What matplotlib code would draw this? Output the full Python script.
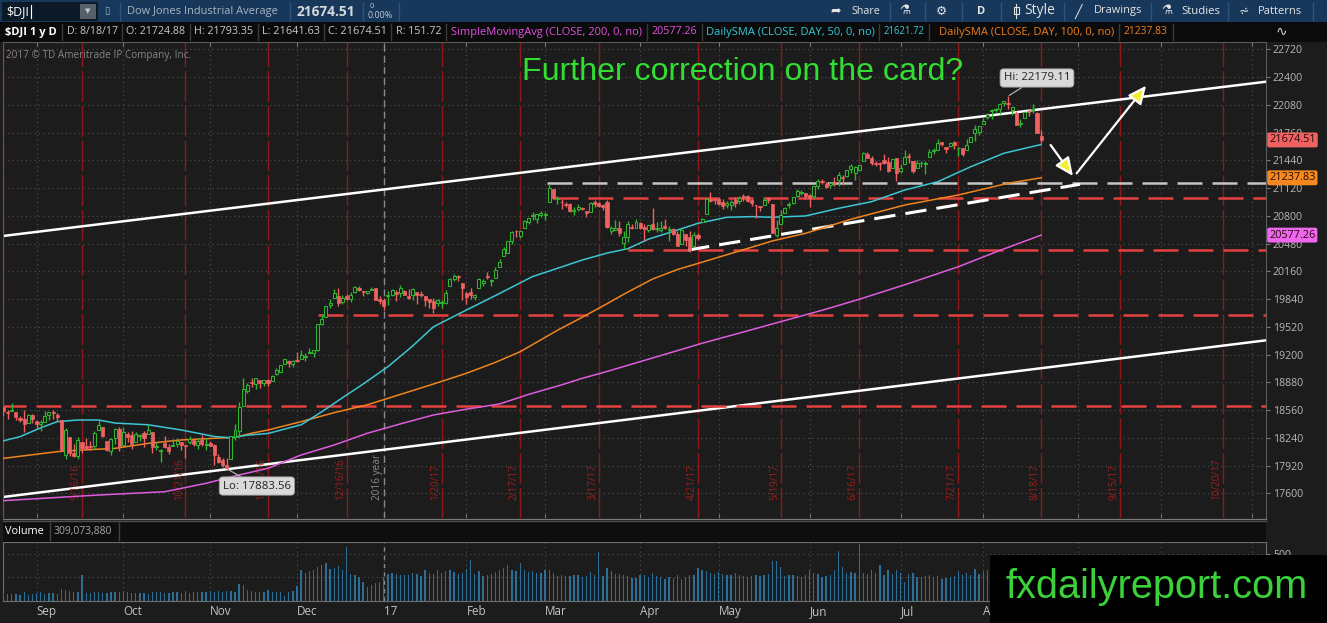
import matplotlib
matplotlib.use("Agg")
import matplotlib.pyplot as plt
import matplotlib.transforms as mtransforms
from matplotlib.patches import Rectangle, FancyArrowPatch
import numpy as np

plt.rcParams["font.family"] = ["Open Sans", "DejaVu Sans"]

# daily $DJI bars 8/19/16 .. 8/18/17; x is trading-day index, 9/1/16 = 0
opens = [
    18597, 18542, 18545, 18541, 18466, 18456, 18416, 18501, 18439,
    18396, 18419, 18501, 18536, 18504, 18445, 18043, 18253, 18067, 18035, 18195, 18150, 18148, 18148, 18333, 18369, 18207, 18090, 18237, 18336, 18161,
    18282, 18268, 18193, 18255, 18295, 18282, 18308, 18133, 18088, 18177, 18130, 18150, 18168, 18190, 18151, 18192, 18214, 18157, 18213, 18155, 18176,
    18158, 18017, 17979, 17928, 17994, 18252, 18317, 18603, 18781, 18876, 18858, 18909, 18866, 18908, 18898, 18971, 18998, 19093, 19123, 19090, 19137,
    19150, 19168, 19215, 19218, 19255, 19547, 19631, 19771, 19853, 19876, 19811, 19877, 19836, 19919, 19969, 19929, 19909, 19943, 19964, 19836, 19833,
    19873, 19890, 19924, 19906, 19931, 19876, 19887, 19926, 19900, 19874, 19836, 19821, 19795, 19794, 19794, 19995, 20076, 20108, 20028, 19913,
    19923, 19859, 19964, 20025, 20107, 20049, 20080, 20211, 20338, 20374, 20504, 20627, 20564, 20663, 20732, 20793, 20762, 20809, 20812,
    20957, 21109, 20999, 20957, 20929, 20933, 20853, 20880, 20888, 20859, 20843, 20962, 20945, 20922, 20958, 20628, 20632, 20664, 20490, 20553, 20676, 20662, 20716,
    20665, 20633, 20703, 20647, 20640, 20679, 20636, 20650, 20585, 20475, 20589, 20559, 20450, 20580, 20723, 20826, 20991, 20984, 20990,
    20962, 20929, 20921, 20977, 20976, 21017, 21026, 20977, 20925, 20917, 20925, 21004, 20936, 20580, 20700, 20832, 20923, 20950, 21032, 21063, 21059, 21036,
    21030, 21147, 21198, 21165, 21153, 21188, 21216, 21237, 21262, 21345, 21292, 21332, 21435, 21514, 21472, 21407, 21398, 21438, 21419, 21351, 21464, 21320,
    21392, 21481, 21436, 21349, 21404, 21398, 21475, 21547, 21564, 21651, 21590, 21609, 21651, 21576, 21581, 21559, 21646, 21754, 21768, 21859,
    21939, 22012, 22018, 22036, 22100, 22104, 22018, 21989, 21855, 21922, 22010, 22019, 21986, 21725,
]
highs = [
    18597, 18563, 18636, 18541, 18496, 18565, 18518, 18516, 18439,
    18443, 18550, 18539, 18558, 18522, 18445, 18358, 18253, 18167, 18251, 18195, 18237, 18203, 18319, 18449, 18369, 18207, 18241, 18354, 18366, 18365,
    18309, 18318, 18304, 18288, 18320, 18400, 18312, 18187, 18111, 18261, 18163, 18230, 18237, 18193, 18151, 18259, 18227, 18237, 18270, 18243, 18202,
    18173, 18055, 18005, 18003, 18263, 18400, 18650, 18934, 18867, 18934, 18925, 18909, 18904, 18915, 18959, 19044, 19085, 19153, 19138, 19137, 19225,
    19249, 19220, 19274, 19252, 19549, 19664, 19757, 19843, 19953, 19966, 19888, 19893, 19917, 19988, 19986, 19934, 19935, 19981, 19965, 19879, 19853,
    19938, 19957, 19948, 19999, 19943, 19957, 19973, 19926, 19933, 19874, 19837, 19855, 19843, 19833, 19949, 20082, 20125, 20114, 20029, 19922,
    19968, 19900, 20081, 20071, 20155, 20069, 20207, 20298, 20441, 20504, 20620, 20639, 20624, 20757, 20778, 20840, 20822, 20851, 20842,
    21169, 21113, 21026, 20988, 20964, 20953, 20899, 20941, 20904, 20859, 20958, 20979, 20959, 20940, 20986, 20682, 20757, 20745, 20621, 20738, 20701, 20759, 20726,
    20701, 20698, 20887, 20727, 20741, 20766, 20682, 20656, 20620, 20647, 20589, 20620, 20617, 20599, 20779, 21006, 21070, 21009, 21014,
    20995, 20970, 20983, 21012, 21025, 21046, 21039, 20990, 20925, 20917, 21000, 21013, 20936, 20754, 20867, 20906, 20955, 21013, 21113, 21092, 21059, 21047,
    21144, 21225, 21229, 21191, 21183, 21242, 21305, 21266, 21328, 21392, 21375, 21391, 21535, 21531, 21495, 21433, 21415, 21507, 21474, 21459, 21466, 21394,
    21562, 21521, 21436, 21443, 21431, 21434, 21571, 21582, 21681, 21651, 21590, 21650, 21663, 21590, 21581, 21681, 21712, 21843, 21830, 21929,
    21990, 22036, 22041, 22100, 22118, 22179, 22059, 22008, 21914, 22012, 22034, 22084, 21999, 21793,
]
lows = [
    18495, 18462, 18545, 18448, 18427, 18311, 18416, 18414, 18354,
    18313, 18419, 18443, 18462, 18431, 18085, 17995, 18028, 18019, 17994, 18066, 18094, 18101, 18107, 18333, 18246, 18082, 18038, 18168, 18089, 18161,
    18193, 18115, 18193, 18201, 18136, 18282, 18069, 18094, 17960, 18118, 18056, 18142, 18138, 18103, 18011, 18172, 18144, 18112, 18142, 18094, 18140,
    17931, 17946, 17904, 17884, 17994, 18220, 18252, 18603, 18758, 18822, 18806, 18818, 18840, 18841, 18898, 18968, 18996, 19093, 19061, 19054, 19111,
    19150, 19123, 19215, 19170, 19241, 19535, 19631, 19732, 19853, 19760, 19784, 19827, 19809, 19912, 19930, 19873, 19901, 19939, 19833, 19788, 19719,
    19776, 19871, 19812, 19860, 19887, 19842, 19830, 19783, 19867, 19754, 19733, 19677, 19763, 19731, 19786, 19995, 20053, 20052, 19833, 19781,
    19844, 19831, 19964, 19989, 20070, 19993, 20080, 20211, 20338, 20374, 20471, 20556, 20547, 20663, 20710, 20757, 20716, 20789, 20757,
    20957, 20996, 20938, 20875, 20900, 20844, 20804, 20852, 20861, 20785, 20843, 20898, 20904, 20863, 20656, 20591, 20632, 20567, 20413, 20496, 20646, 20659, 20648,
    20511, 20611, 20637, 20611, 20612, 20646, 20512, 20576, 20453, 20471, 20455, 20379, 20450, 20517, 20723, 20824, 20963, 20932, 20925,
    20875, 20886, 20868, 20906, 20934, 20973, 20957, 20918, 20777, 20858, 20925, 20947, 20606, 20553, 20700, 20832, 20893, 20937, 21018, 21035, 20996, 20896,
    21002, 21112, 21169, 21123, 21116, 21143, 21138, 21153, 21250, 21288, 21218, 21312, 21435, 21466, 21382, 21372, 21333, 21397, 21310, 21351, 21197, 21291,
    21392, 21404, 21292, 21349, 21365, 21287, 21475, 21518, 21564, 21605, 21520, 21596, 21573, 21485, 21488, 21559, 21646, 21661, 21728, 21859,
    21914, 21920, 21999, 21972, 22063, 22035, 21958, 21844, 21829, 21922, 21955, 21990, 21750, 21642,
]
closes = [
    18553, 18530, 18548, 18481, 18448, 18395, 18503, 18454, 18401,
    18419, 18492, 18538, 18526, 18480, 18085, 18326, 18067, 18034, 18212, 18124, 18120, 18130, 18294, 18392, 18261, 18094, 18228, 18339, 18143, 18308,
    18254, 18168, 18281, 18269, 18240, 18329, 18129, 18144, 18099, 18138, 18087, 18162, 18203, 18162, 18146, 18224, 18169, 18199, 18170, 18161, 18142,
    18037, 17959, 17931, 17888, 18260, 18332, 18590, 18808, 18848, 18869, 18924, 18868, 18904, 18868, 18957, 19024, 19083, 19153, 19098, 19122, 19124,
    19192, 19171, 19216, 19252, 19549, 19615, 19757, 19797, 19911, 19792, 19853, 19843, 19884, 19975, 19942, 19918, 19934, 19946, 19833, 19819, 19763,
    19882, 19942, 19899, 19964, 19887, 19856, 19955, 19892, 19886, 19826, 19804, 19732, 19827, 19799, 19912, 20069, 20101, 20094, 19971, 19864,
    19891, 19885, 20071, 20053, 20090, 20054, 20172, 20269, 20412, 20504, 20611, 20619, 20624, 20744, 20775, 20810, 20822, 20837, 20812,
    21116, 21003, 21006, 20954, 20925, 20856, 20858, 20903, 20881, 20837, 20950, 20934, 20915, 20906, 20669, 20661, 20657, 20597, 20551, 20701, 20659, 20729, 20663,
    20651, 20690, 20648, 20663, 20656, 20658, 20651, 20592, 20453, 20637, 20523, 20404, 20578, 20548, 20763, 20996, 20976, 20981, 20941,
    20913, 20950, 20958, 20952, 21007, 21013, 20975, 20943, 20919, 20897, 20982, 20980, 20607, 20663, 20805, 20895, 20938, 21012, 21083, 21080, 21029, 21009,
    21144, 21206, 21184, 21136, 21174, 21182, 21272, 21236, 21328, 21375, 21360, 21384, 21528, 21468, 21411, 21397, 21395, 21410, 21311, 21454, 21288, 21350,
    21479, 21479, 21320, 21414, 21409, 21409, 21533, 21553, 21638, 21630, 21575, 21641, 21612, 21580, 21513, 21613, 21711, 21797, 21830, 21891,
    21964, 22016, 22026, 22093, 22118, 22085, 22049, 21844, 21858, 21993, 21999, 22025, 21750, 21675,
]
# volume, millions
volumes = [
    85, 70, 72, 70, 68, 90, 60, 72, 85,
    95, 70, 85, 80, 78, 130, 115, 105, 100, 95, 275, 85, 80, 95, 90, 88, 85, 90, 95, 100, 110,
    90, 85, 80, 80, 85, 75, 95, 90, 95, 85, 85, 90, 95, 85, 110, 85, 90, 95, 95, 100, 105,
    100, 105, 95, 110, 105, 100, 180, 170, 120, 110, 100, 95, 95, 115, 100, 95, 90, 55, 95, 105, 160,
    330, 300, 320, 330, 360, 380, 400, 340, 350, 370, 330, 574, 290, 275, 255, 200, 150, 170, 190, 200, 250,
    290, 300, 290, 280, 270, 280, 300, 290, 260, 330, 300, 290, 330, 300, 320, 330, 310, 290, 300, 340,
    430, 290, 320, 260, 280, 290, 310, 330, 345, 380, 330, 320, 400, 330, 310, 320, 300, 300, 330,
    330, 300, 260, 270, 260, 260, 270, 280, 250, 260, 310, 280, 520, 260, 350, 320, 290, 290, 280, 260, 240, 240, 280,
    270, 250, 300, 260, 250, 230, 250, 240, 270, 230, 250, 270, 280, 350, 330, 320, 300, 290, 310,
    290, 270, 280, 300, 280, 260, 250, 260, 280, 260, 270, 290, 420, 420, 360, 260, 270, 270, 260, 250, 270, 330,
    300, 290, 250, 260, 270, 330, 530, 360, 300, 310, 300, 600, 300, 290, 330, 300, 380, 270, 330, 290, 330, 300,
    200, 290, 300, 250, 250, 260, 270, 250, 260, 230, 240, 250, 260, 320, 270, 300, 280, 340, 290, 320,
    330, 340, 280, 300, 240, 280, 300, 420, 310, 290, 270, 300, 350, 309,
]
first_index = -9

# moving averages (index, value)
sma50_idx = [-9, -5, 0, 4, 9, 14, 18, 26, 34, 42, 46, 50, 55, 63, 68, 72, 78, 84, 90, 95, 103,
             110, 119, 126, 131, 137, 142, 147, 153, 159, 166, 172, 177, 185, 193, 201, 209, 217, 225, 233, 242]
sma50 = [18205, 18253, 18355, 18426, 18445, 18445, 18410, 18390, 18330, 18255, 18240, 18270, 18290, 18390,
         18540, 18670, 18860, 19060, 19300, 19520, 19714, 19880, 20100, 20210, 20290, 20370, 20420, 20530,
         20620, 20713, 20783, 20790, 20783, 20798, 20886, 20963, 21097, 21193, 21366, 21521, 21622]
sma100_idx = [-9, 4, 10, 18, 26, 34, 42, 47, 51, 55, 63, 71, 79, 87, 95, 103, 110, 116, 125, 131, 136,
              142, 148, 154, 160, 168, 177, 185, 196, 209, 222, 234, 242]
sma100 = [18003, 18080, 18099, 18118, 18176, 18215, 18234, 18245, 18292, 18330, 18426, 18530, 18620, 18740,
          18860, 18984, 19110, 19233, 19480, 19630, 19760, 19920, 20070, 20180, 20265, 20380, 20510, 20598,
          20760, 20924, 21040, 21175, 21238]
sma200_idx = [-9, 14, 30, 40, 47, 55, 63, 71, 79, 87, 95, 103, 111, 118, 126, 131, 136, 148, 160, 170,
              179, 189, 198, 210, 222, 232, 242]
sma200 = [17515, 17580, 17618, 17715, 17800, 17888, 18042, 18157, 18292, 18400, 18503, 18570, 18630, 18740,
          18850, 18926, 18991, 19160, 19330, 19460, 19579, 19710, 19837, 20020, 20213, 20400, 20577]

month_names = ["Sep", "Oct", "Nov", "Dec", "17", "Feb", "Mar", "Apr", "May", "Jun", "Jul", "Aug", "Sep", "Oct", "Nov"]
month_first = [0, 21, 42, 63, 84, 104, 123, 146, 165, 187, 209, 229, 252, 272, 294]
expiry_idx = [-9, 10, 35, 55, 74, 97, 116, 135, 159, 179, 198, 222, 242, 261, 286]
expiry_labels = ["8/19/16", "9/16/16", "10/21/16", "11/18/16", "12/16/16", "1/20/17", "2/17/17", "3/17/17",
                 "4/21/17", "5/19/17", "6/16/17", "7/21/17", "8/18/17", "9/15/17", "10/20/17"]
year_idx = 83
price_ticks = [17600, 17920, 18240, 18560, 18880, 19200, 19520, 19840, 20160, 20480, 20800, 21120,
               21440, 21760, 22080, 22400, 22720]

# drawings on the chart
red_levels = [21009, 20406, 19660, 18607]
red_level_start = [124, 142, 67, -9.5]
gray_level = 21175
gray_level_start = 122.5
trend_x = [156.6, 251.4]
trend_y = [20405, 21163]
chan_x = [-9.12, 296.4]
chan_upper = [20567, 22346]
chan_lower = [17557, 19364]
arrow_from = [(244.3, 21616), (250.6, 21290)]
arrow_to = [(249.7, 21259), (267.4, 22300)]
hi_point, hi_label_at = (234, 22179), (241, 22389)
lo_point, lo_label_at = (45, 17884), (52.3, 17684)
last_close, last_sma100, last_sma200 = 21674.51, 21237.83, 20577.26

W, H = 1327, 623
BG = "#1c1c1c"
GREEN = "#2fb52f"
RED = "#ef6262"
XL = (-9.12, 296.4)

fig = plt.figure(figsize=(W / 100, H / 100), dpi=100, facecolor=BG)
renderer = fig.canvas.get_renderer()


def frect(x0, y0, x1, y1, color, z=1, ec="none", lw=0):
    fig.add_artist(Rectangle((x0 / W, 1 - y1 / H), (x1 - x0) / W, (y1 - y0) / H,
                             transform=fig.transFigure, facecolor=color, edgecolor=ec, lw=lw, zorder=z))


def fline(x0, y0, x1, y1, color, lw=1.0, z=2):
    fig.add_artist(plt.Line2D([x0 / W, x1 / W], [1 - y0 / H, 1 - y1 / H],
                              transform=fig.transFigure, color=color, lw=lw, zorder=z))


def ftext(x, y, s, size, color, x1=None, va="center", z=3, **kw):
    t = fig.text(x / W, 1 - y / H, s, fontsize=size, color=color, ha="left", va=va, zorder=z, **kw)
    if x1 is not None:
        w = t.get_window_extent(renderer).width
        t.set_fontsize(size * (x1 - x) / w)
    return t


# ---- price panel
ax = fig.add_axes([3 / W, 1 - 518 / H, 1263 / W, 476 / H])
ax.set_facecolor(BG)
ax.set_xlim(*XL)
ax.set_ylim(17315, 22804)
ax.set_axisbelow(True)
ax.set_yticks(price_ticks)
ax.set_xticks([m - 1 for m in month_first])
ax.grid(True, color="#505050", linestyle=(0, (1, 3)), linewidth=0.8)
ax.yaxis.tick_right()
ax.tick_params(axis="y", colors="#7a7a7a", labelcolor="#b8b8b8", labelsize=7.6, length=3, pad=2)
ax.tick_params(axis="x", labelbottom=False, top=True, direction="in", length=3, colors="#7a7a7a")
for s in ax.spines.values():
    s.set_color("#5c5c5c")

for i, lbl in zip(expiry_idx, expiry_labels):
    ax.axvline(i, color="#8c1a1a", lw=1.0, dashes=(22, 3), zorder=1)
    ax.text(i - 1.45, 17523, lbl, rotation=90, rotation_mode="anchor", ha="left", va="center",
            color="#9c1c1c", fontsize=7.2, clip_on=True)
ax.axvline(year_idx, color="#8a8a8a", lw=1.0, dashes=(5, 3), zorder=1)
ax.text(year_idx - 1.45, 17523, "2016 year", rotation=90, rotation_mode="anchor", ha="left",
        va="center", color="#8a8a8a", fontsize=7.2)

ax.plot(chan_x, chan_upper, color="white", lw=1.8, zorder=2)
ax.plot(chan_x, chan_lower, color="white", lw=1.8, zorder=2)

for lvl, st in zip(red_levels, red_level_start):
    ax.hlines(lvl, st, XL[1], color="#e44040", lw=1.8, linestyles=(0, (10, 4)), zorder=2)
ax.hlines(gray_level, gray_level_start, XL[1], color="#c6c6c6", lw=1.8, linestyles=(0, (10, 4)), zorder=2)
ax.plot(trend_x, trend_y, color="white", lw=2.2, dashes=(7, 3.3), zorder=2)

ax.plot(sma200_idx, sma200, color="#de5cde", lw=1.1, zorder=3)
ax.plot(sma100_idx, sma100, color="#f0841f", lw=1.1, zorder=3)
ax.plot(sma50_idx, sma50, color="#3cc6d4", lw=1.1, zorder=3)

o, h, l, c = (np.array(v, dtype=float) for v in (opens, highs, lows, closes))
idx = np.arange(first_index, first_index + len(c))
up = c >= o
body_lo = np.minimum(o, c)
body_h = np.maximum(np.abs(c - o), 10)
ax.vlines(idx[up], l[up], h[up], color=GREEN, lw=1.0, zorder=4)
ax.vlines(idx[~up], l[~up], h[~up], color=RED, lw=1.0, zorder=4)
ax.bar(idx[up], body_h[up], bottom=body_lo[up], width=0.72, facecolor=BG, edgecolor=GREEN, lw=0.75, zorder=5)
ax.bar(idx[~up], body_h[~up], bottom=body_lo[~up], width=0.76, color=RED, edgecolor=RED, lw=0.5, zorder=5)

for a, b in zip(arrow_from, arrow_to):
    ax.add_patch(FancyArrowPatch(a, b, arrowstyle="-|>,head_length=0.55,head_width=0.25", mutation_scale=20,
                                 lw=1.6, edgecolor="white", facecolor="#f4ee36", shrinkA=0, shrinkB=0, zorder=6))

bub = dict(boxstyle="round,pad=0.32", fc="#d9d9d9", ec="#9a9a9a", lw=0.6)
ax.annotate(f"Hi: {22179.11:.2f}", xy=hi_point, xytext=hi_label_at, ha="center", va="center", fontsize=8.2,
            color="#222222", bbox=bub, zorder=8,
            arrowprops=dict(arrowstyle="-", color="#bdbdbd", lw=0.8, shrinkA=0, shrinkB=1))
ax.annotate(f"Lo: {17883.56:.2f}", xy=lo_point, xytext=lo_label_at, ha="center", va="center", fontsize=8.2,
            color="#222222", bbox=bub, zorder=8,
            arrowprops=dict(arrowstyle="-", color="#bdbdbd", lw=0.8, shrinkA=0, shrinkB=1))

yt = mtransforms.blended_transform_factory(ax.transAxes, ax.transData)
for val, fc in [(last_close, "#f06262"), (last_sma100, "#f5891f"), (last_sma200, "#ee66ee")]:
    ax.text(1.0025, val, f"{val:.2f}", transform=yt, fontsize=7.8, color="#2a0808", ha="left", va="center",
            clip_on=False, zorder=9, bbox=dict(boxstyle="round,pad=0.18", fc=fc, ec="none"))

ax.text(0.002, 0.972, "2017 \u00a9 TD Ameritrade IP Company, Inc.", transform=ax.transAxes, fontsize=7.2,
        color="#858585", ha="left", va="center")

# ---- volume panel
axv = fig.add_axes([3 / W, 1 - 601 / H, 1263 / W, 59 / H])
axv.set_facecolor(BG)
axv.set_xlim(*XL)
axv.set_ylim(0, 624)
axv.set_axisbelow(True)
axv.bar(idx, volumes, width=0.32, color="#2d6e96", zorder=3)
axv.set_yticks([250, 500])
axv.set_yticklabels(["", "500"])
axv.yaxis.tick_right()
axv.tick_params(axis="y", colors="#7a7a7a", labelcolor="#b8b8b8", labelsize=7.6, length=3, pad=2)
axv.set_xticks([m - 1 for m in month_first])
axv.set_xticklabels(month_names)
for t in axv.get_xticklabels():
    t.set_ha("left")
axv.tick_params(axis="x", length=0, pad=3, labelsize=8.4, labelcolor="#c4c4c4")
axv.grid(True, color="#505050", linestyle=(0, (1, 3)), linewidth=0.8)
axv.axvline(year_idx, color="#8a8a8a", lw=1.0, dashes=(3, 3), zorder=2)
for s in axv.spines.values():
    s.set_color("#6e6e6e")

# volume header strip
frect(3, 518, 1266, 542, "#0e0e0e")
fline(3, 518.5, 1266, 518.5, "#7a7a7a")
fline(3, 521, 1266, 521, "#4e4e4e")
ftext(5, 531.5, "Volume", 8, "white", x1=44)
fline(50, 523, 50, 540, "#444444")
ftext(54, 531.5, "309,073,880", 8, "#a8a8a8", x1=113)
fline(119, 523, 119, 540, "#444444")

# ---- top toolbar
frect(0, 0, W, 22, "#17385a")
frect(2, 2, 98, 21, "#0c1a28", z=2)
frect(80, 4, 96, 19, "#56606a", z=2)
ftext(84.5, 11.5, "\u25bc", 5, "#c8c8c8")
ftext(6, 11.5, "$DJI", 8, "white", x1=29)
fline(31, 5, 31, 18, "white", lw=0.8, z=3)
ftext(104, 11.5, "\u25af", 7, "#9fb4c8")
for x in [120, 290, 363, 399, 890, 925, 962, 1001, 1064, 1151, 1228, 1313]:
    fline(x, 3, x, 20, "#2e5479")
ftext(127, 11.5, "Dow Jones Industrial Average", 8, "#a9b5c0", x1=278)
ftext(297, 11.5, "21674.51", 9, "#d4d8dc", x1=356, fontweight="bold")
ftext(370, 6.5, "0", 5.5, "#c0c8d0")
ftext(368, 16, "0.00%", 5.5, "#c0c8d0", x1=393)
ftext(830, 11, "\u27a6", 9, "#e4e4e4", family="DejaVu Sans")
ftext(851, 11, "Share", 8, "#e4e4e4", x1=880)
ftext(899, 11, "\u2697", 9, "#e4e4e4", family="DejaVu Sans")
ftext(936, 11, "\u2699", 9, "#e4e4e4", family="DejaVu Sans")
ftext(977, 11, "D", 8, "#e4e4e4", fontweight="bold")
# candle-style icon
fline(1016, 4, 1016, 18, "#e4e4e4", lw=0.8, z=3)
frect(1013.5, 7, 1018.5, 14, "none", z=3, ec="#e4e4e4", lw=0.8)
ftext(1024, 11, "Style", 8, "#e4e4e4", x1=1055)
ftext(1075, 11, "\u2571", 9, "#e4e4e4", family="DejaVu Sans")
ftext(1094, 11, "Drawings", 8, "#e4e4e4", x1=1142)
ftext(1161, 11, "\u2697", 9, "#e4e4e4", family="DejaVu Sans")
ftext(1181, 11, "Studies", 8, "#e4e4e4", x1=1220)
ftext(1239, 11, "\u2A6B", 9, "#e4e4e4", family="DejaVu Sans")
ftext(1258, 11, "Patterns", 8, "#e4e4e4", x1=1302)

# ---- study header strip
frect(0, 22, W, 42, "#0b0b0b")
header_items = [
    (5, 57, "$DJI 1 y D", "white", "bold"),
    (67, 118, "D: 8/18/17", "#c8c8c8", "normal"),
    (126, 185, "O: 21724.88", "#c8c8c8", "normal"),
    (194, 254, "H: 21793.35", "#c8c8c8", "normal"),
    (262, 320, "L: 21641.63", "#c8c8c8", "normal"),
    (328, 387, "C: 21674.51", "#c8c8c8", "normal"),
    (396, 442, "R: 151.72", "#c8c8c8", "normal"),
    (451, 643, "SimpleMovingAvg (CLOSE, 200, 0, no)", "#e052e0", "normal"),
    (651, 697, "20577.26", "#e052e0", "normal"),
    (706, 875, "DailySMA (CLOSE, DAY, 50, 0, no)", "#34c8d8", "normal"),
    (883, 924, "21621.72", "#34c8d8", "normal"),
    (939, 1114, "DailySMA (CLOSE, DAY, 100, 0, no)", "#ef7e1e", "normal"),
    (1123, 1167, "21237.83", "#ef7e1e", "normal"),
]
for x0, x1, s, col, wt in header_items:
    ftext(x0, 32, s, 8, col, x1=x1, fontweight=wt)
for x in [62, 122, 190, 258, 324, 391, 446, 647, 702, 879, 929, 1119, 1173]:
    fline(x, 24, x, 40, "#3a3a3a")
ftext(1276, 32, "\u223f", 10, "#d0d0d0", family="DejaVu Sans")

# ---- overlays
ftext(522, 80, "Further correction on the card?", 20, "#33de33", x1=961, va="baseline", z=6,
      family=["Liberation Sans", "DejaVu Sans"])
frect(990, 555, W, H, "#000000", z=10)
ftext(1006, 598, "fxdailyreport.com", 28, "#3ad13a", x1=1309, va="baseline", z=11,
      family=["Liberation Sans", "DejaVu Sans"])

fig.savefig("out.png", dpi=100, facecolor=fig.get_facecolor())
